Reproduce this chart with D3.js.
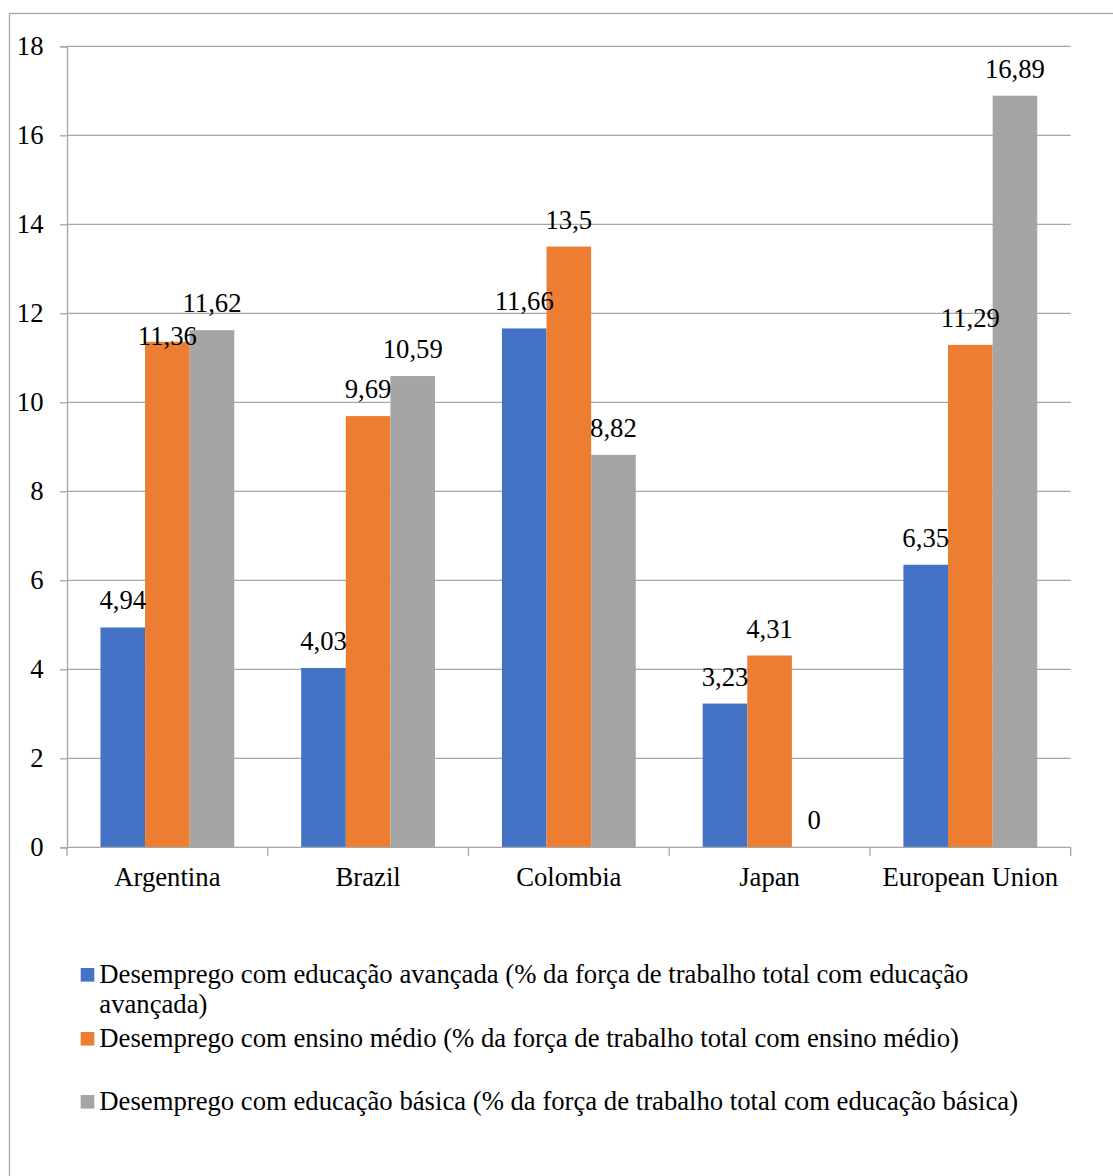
<!DOCTYPE html>
<html>
<head>
<meta charset="utf-8">
<script src="https://cdn.jsdelivr.net/npm/d3@7"></script>
<style>
  html, body { margin: 0; padding: 0; background: #ffffff; }
  svg { display: block; }
  svg text { font-family: "Liberation Serif", "Times New Roman", serif; fill: #000; }
</style>
</head>
<body>
<svg id="chart" width="1113" height="1176"></svg>
<script>
// ---- data ----
const categories = ["Argentina", "Brazil", "Colombia", "Japan", "European Union"];
const seriesNames = [
  "Desemprego com educação avançada (% da força de trabalho total com educação avançada)",
  "Desemprego com ensino médio (% da força de trabalho total com ensino médio)",
  "Desemprego com educação básica (% da força de trabalho total com educação básica)"
];
const advancedValues = [4.94, 4.03, 11.66, 3.23, 6.35];
const secondaryValues = [11.36, 9.69, 13.5, 4.31, 11.29];
const basicValues = [11.62, 10.59, 8.82, 0, 16.89];
const yTicks = [0, 2, 4, 6, 8, 10, 12, 14, 16, 18];
const seriesColors = ["#4472C4", "#ED7D31", "#A5A5A5"];

const seriesValues = [advancedValues, secondaryValues, basicValues];

// ---- layout ----
(function () {
const W = 1113, H = 1176;
const plotLeft = 67, plotRight = 1070.7, plotTop = 46.3, plotBottom = 847.3;
const fontSize = 26.7;
const fontFamily = "'Liberation Serif','Times New Roman',serif";
const gridColor = "#a6a6a6";

const svg = d3.select("#chart").attr("font-family", fontFamily);
svg.append("rect").attr("width", W).attr("height", H).attr("fill", "#fff");
// outer frame (extends past the picture on the right and bottom)
svg.append("rect").attr("x", 9.5).attr("y", 13.5).attr("width", 1300).attr("height", 1300)
  .attr("fill", "none").attr("stroke", gridColor).attr("stroke-width", 1.3);

const y = d3.scaleLinear().domain([0, 18]).range([plotBottom, plotTop]);
const x = d3.scaleBand().domain(categories).range([plotLeft, plotRight]).padding(0);
const bw = x.bandwidth();
const gap = bw * 0.75 / 4.5;
const xs = d3.scaleBand().domain([0, 1, 2]).range([gap, bw - gap]).padding(0);

// gridlines
svg.append("g").selectAll("line").data(yTicks.filter(t => t > 0)).join("line")
  .attr("x1", plotLeft).attr("x2", plotRight)
  .attr("y1", d => y(d)).attr("y2", d => y(d))
  .attr("stroke", gridColor).attr("stroke-width", 1.3);

// y axis
const yAxis = svg.append("g").attr("transform", `translate(${plotLeft},0)`)
  .call(d3.axisLeft(y).tickValues(yTicks).tickSize(7).tickPadding(16.5).tickFormat(d3.format("d")));
yAxis.attr("font-family", fontFamily).attr("font-size", fontSize);
yAxis.select(".domain").attr("stroke", gridColor).attr("stroke-width", 1.3);
yAxis.selectAll(".tick line").attr("stroke", gridColor).attr("stroke-width", 1.3);
yAxis.selectAll(".tick text").attr("fill", "#000");

// bars
const groups = svg.append("g").selectAll("g").data(categories).join("g")
  .attr("transform", d => `translate(${x(d)},0)`);
groups.selectAll("rect").data((c, i) => seriesValues.map((vals, s) => ({ s, v: vals[i] }))).join("rect")
  .attr("x", d => xs(d.s)).attr("width", xs.bandwidth())
  .attr("y", d => y(d.v)).attr("height", d => y(0) - y(d.v))
  .attr("fill", d => seriesColors[d.s]);

// x axis
const xAxisG = svg.append("g");
xAxisG.append("line").attr("x1", plotLeft).attr("x2", plotRight).attr("y1", plotBottom).attr("y2", plotBottom)
  .attr("stroke", gridColor).attr("stroke-width", 1.3);
const bounds = categories.map(c => x(c)).concat([plotRight]);
xAxisG.selectAll("line.tk").data(bounds).join("line").attr("class", "tk")
  .attr("x1", d => d).attr("x2", d => d).attr("y1", plotBottom).attr("y2", plotBottom + 8.5)
  .attr("stroke", gridColor).attr("stroke-width", 1.3);
xAxisG.selectAll("text").data(categories).join("text")
  .attr("x", d => x(d) + bw / 2).attr("y", 886)
  .attr("text-anchor", "middle").attr("font-size", fontSize).text(d => d);

// data labels
const fmt = v => String(v).replace(".", ",");
categories.forEach((c, i) => {
  const labels = seriesValues.map((vals, s) => {
    const cx = x(c) + xs(s) + xs.bandwidth() / 2;
    const t = svg.append("text")
      .attr("x", cx)
      .attr("text-anchor", "middle").attr("font-size", fontSize)
      .text(fmt(vals[i]));
    const w = t.node().getComputedTextLength();
    return { t, cx, w, yb: y(vals[i]) - 18 };
  });
  // simple overlap avoidance between neighbouring labels
  for (let a = 0; a < labels.length; a++) {
    for (let b = 0; b < labels.length; b++) {
      if (a === b) continue;
      const A = labels[a], B = labels[b];
      const hOver = Math.abs(A.cx - B.cx) < (A.w + B.w) / 2;
      const vOver = Math.abs(A.yb - B.yb) < fontSize * 0.9;
      if (hOver && vOver && A.yb >= B.yb) A.yb = B.yb + fontSize * 1.24;
    }
  }
  labels.forEach(L => L.t.attr("y", L.yb));
});

// legend
const legendBaselines = [983, 1047, 1110];
const lineGap = 30;
seriesNames.forEach((name, s) => {
  const by = legendBaselines[s];
  svg.append("rect").attr("x", 80.7).attr("y", by - 15).attr("width", 13.6).attr("height", 13.6)
    .attr("fill", seriesColors[s]);
  const t = svg.append("text").attr("x", 99.3).attr("y", by).attr("font-size", fontSize);
  const words = name.split(" ");
  let line = [], lineNo = 0;
  let tspan = t.append("tspan").attr("x", 99.3).attr("y", by);
  words.forEach(wd => {
    line.push(wd);
    tspan.text(line.join(" "));
    if (tspan.node().getComputedTextLength() > 950 && line.length > 1) {
      line.pop();
      tspan.text(line.join(" "));
      line = [wd];
      lineNo++;
      tspan = t.append("tspan").attr("x", 99.3).attr("y", by + lineNo * lineGap).text(wd);
    }
  });
});
})();
</script>
</body>
</html>
